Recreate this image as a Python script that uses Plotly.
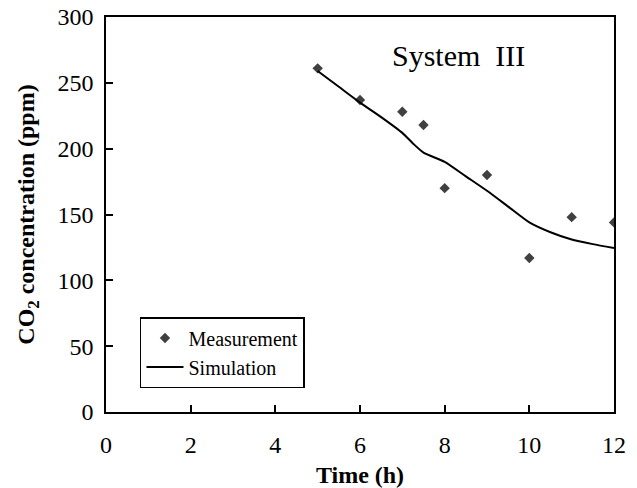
import plotly.graph_objects as go

# Measurement data
meas_time = [5, 6, 7, 7.5, 8, 9, 10, 11, 12]
meas_co2 = [261, 237, 228, 218, 170, 180, 117, 148, 144]

# Simulation curve
sim_time = [5, 5.5, 6, 6.5, 7, 7.25, 7.5, 8, 8.5, 9, 9.5, 10, 10.5, 11, 11.5, 12]
sim_co2 = [259, 247, 235, 224, 212, 204, 197, 190, 179, 168, 156, 144, 136.5, 131, 127.5, 124.5]

x_ticks = [0, 2, 4, 6, 8, 10, 12]
y_ticks = [0, 50, 100, 150, 200, 250, 300]

FONT = "Liberation Serif"

fig = go.Figure()
fig.add_trace(go.Scatter(
    x=meas_time, y=meas_co2, mode="markers", name="Measurement",
    marker=dict(symbol="diamond", size=8, color="#404040"),
))
fig.add_trace(go.Scatter(
    x=sim_time, y=sim_co2, mode="lines", name="Simulation",
    line=dict(color="black", width=2, shape="spline", smoothing=0.6),
))

fig.add_annotation(
    x=8.32, y=271, xref="x", yref="y", text="System\u00a0\u00a0III",
    showarrow=False, font=dict(family=FONT, size=30, color="black"),
    xanchor="center", yanchor="middle",
)

axis_common = dict(
    showgrid=False, zeroline=False, showline=True, linecolor="black",
    linewidth=1.5, mirror=True, ticks="inside", ticklen=7, tickwidth=1.5,
    tickcolor="black", tickfont=dict(family=FONT, size=24, color="black"),
    automargin=False,
)

fig.update_xaxes(
    range=[0, 12], tickvals=x_ticks, ticktext=[str(v) for v in x_ticks],
    title=dict(text="<b>Time (h)</b>", font=dict(family=FONT, size=24, color="black"), standoff=15),
    ticklabelstandoff=10,
    **axis_common,
)
fig.update_yaxes(
    range=[0, 300], tickvals=y_ticks, ticktext=[str(v) for v in y_ticks],
    title=dict(text="<b>CO<sub>2</sub> concentration (ppm)</b>", font=dict(family=FONT, size=24, color="black"), standoff=16),
    ticklabelstandoff=6,
    **axis_common,
)

fig.update_layout(
    width=637, height=488,
    margin=dict(l=106, r=23, t=17, b=76),
    plot_bgcolor="white", paper_bgcolor="white",
    font=dict(family=FONT, color="black"),
    showlegend=True,
    legend=dict(
        x=0.0669, y=0.2405, xanchor="left", yanchor="top",
        bordercolor="black", borderwidth=1.5, bgcolor="white",
        font=dict(family=FONT, size=20, color="black"),
        tracegroupgap=0, itemwidth=37,
    ),
)

fig.write_html("out.html")
